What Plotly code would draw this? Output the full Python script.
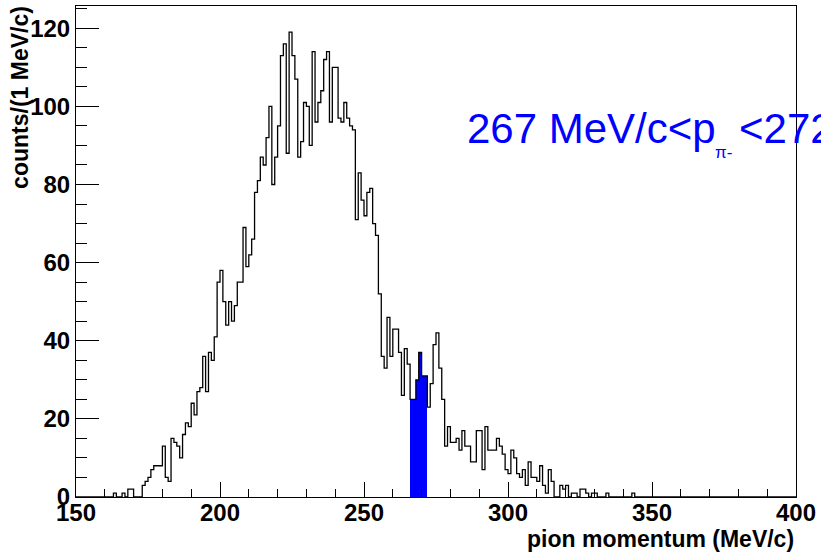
import plotly.graph_objects as go

# Pion momentum spectrum, 1 MeV/c bins from 150 to 400 MeV/c
bin_start = 150
bin_width = 1
counts = [
    0, 0, 0, 0, 0, 0, 0, 0, 0, 0,            # 150-159
    0, 0, 0, 1, 0, 0, 1, 0, 2, 2,            # 160-169
    0, 0, 0, 3, 4, 5, 7, 8, 8, 8,            # 170-179
    13, 5, 4, 15, 14, 13, 10, 16, 19, 18,    # 180-189
    24, 21, 27, 28, 36, 27, 37, 35, 41, 55,  # 190-199
    58, 50, 44, 50, 45, 49, 55, 55, 69, 59,  # 200-209
    62, 66, 78, 81, 87, 85, 92, 100, 80, 87,     # 210-219
    95, 113, 116, 88, 119, 113, 107, 87, 91, 101,  # 220-229
    100, 90, 114, 96, 101, 104, 112, 114, 96, 110,  # 230-239
    110, 97, 96, 101, 97, 95, 94, 71, 83, 76,   # 240-249
    72, 78, 79, 70, 67, 52, 36, 33, 46, 36,     # 250-259
    43, 43, 37, 26, 38, 34, 25, 25, 30, 37,     # 260-269
    31, 31, 23, 29, 39, 42, 33, 25, 13, 18,     # 270-279
    14, 14, 15, 12, 17, 13, 13, 9, 9, 17,       # 280-289
    17, 7, 18, 12, 12, 12, 15, 13, 11, 7,       # 290-299
    6, 12, 10, 6, 5, 7, 3, 9, 5, 5,             # 300-309
    4, 8, 3, 1, 7, 4, 0, 0, 3, 2,               # 310-319
    3, 0, 1, 1, 0, 2, 2, 1, 0, 1,               # 320-329
    1, 0, 0, 0, 1, 0, 0, 0, 0, 0,               # 330-339
    0, 0, 0, 1, 0, 0, 0, 0, 0, 0,               # 340-349
    0, 0, 0, 0, 0, 0, 0, 0, 0, 0,               # 350-359
    0, 0, 0, 0, 0, 0, 0, 0, 0, 0,               # 360-369
    0, 0, 0, 0, 0, 0, 0, 0, 0, 0,               # 370-379
    0, 0, 0, 0, 0, 0, 0, 0, 0, 0,               # 380-389
    0, 0, 0, 0, 0, 0, 0, 0, 0, 0,               # 390-399
]

# Selected momentum window (highlighted bins)
window_bins = [266, 267, 268, 269, 270, 271]

x_range = [150, 400]
y_range = [0, 125.7]

edges = [bin_start + i * bin_width for i in range(len(counts) + 1)]
sel_x = [b + 0.5 * bin_width for b in window_bins]
sel_y = [counts[b - bin_start] for b in window_bins]

BLUE = "#0000ff"
FONT = "Liberation Sans, Arial, Helvetica, sans-serif"

fig = go.Figure()

# filled selection
fig.add_trace(go.Bar(
    x=sel_x, y=sel_y, width=bin_width,
    marker=dict(color=BLUE, line=dict(width=0)),
    hoverinfo="skip",
))

# histogram outline
fig.add_trace(go.Scatter(
    x=edges, y=counts + [counts[-1]],
    mode="lines",
    line=dict(color="black", width=1.3, shape="hv"),
    hoverinfo="skip",
))

W, H = 821, 553
ML, MR, MT, MB = 76, 20, 5, 56
pw, ph = W - ML - MR, H - MT - MB


def px_to_paper_x(px):
    return (px - ML) / pw


def py_to_paper_y(py):
    return (H - MB - py) / ph


tickfont = dict(family=FONT, size=24, color="black", weight="bold")

fig.update_layout(
    width=W, height=H,
    margin=dict(l=ML, r=MR, t=MT, b=MB, pad=0),
    paper_bgcolor="white", plot_bgcolor="white",
    showlegend=False,
    bargap=0,
    xaxis=dict(
        range=x_range, tick0=150, dtick=50,
        showline=True, linecolor="black", linewidth=1, mirror=True,
        ticks="inside", ticklen=15, tickwidth=1, tickcolor="black",
        showgrid=False, zeroline=False,
        tickfont=tickfont, ticklabelstandoff=-6, ticklabeloverflow="allow",
        minor=dict(dtick=10, ticks="inside", ticklen=8, tickwidth=1,
                   tickcolor="black", showgrid=False),
    ),
    yaxis=dict(
        range=y_range, tick0=0, dtick=20,
        showline=True, linecolor="black", linewidth=1, mirror=True,
        ticks="inside", ticklen=23, tickwidth=1, tickcolor="black",
        showgrid=False, zeroline=False,
        tickfont=tickfont, ticklabeloverflow="allow",
        minor=dict(dtick=5, ticks="inside", ticklen=11, tickwidth=1,
                   tickcolor="black", showgrid=False),
    ),
)

title_font = dict(family=FONT, size=23, color="black", weight="bold")

fig.add_annotation(
    text="pion momentum (MeV/c)",
    xref="paper", yref="paper",
    x=px_to_paper_x(801), y=py_to_paper_y(539),
    xanchor="right", yanchor="middle",
    showarrow=False, font=title_font,
)
fig.add_annotation(
    text="counts/(1 MeV/c)",
    xref="paper", yref="paper",
    x=px_to_paper_x(19), y=py_to_paper_y(3),
    xanchor="center", yanchor="top", textangle=-90,
    showarrow=False, font=title_font,
)

# Selection label: 267 MeV/c < p_{pi-} < 272
big = dict(family=FONT, size=42, color=BLUE)
small = dict(family=FONT, size=17, color=BLUE)
fig.add_annotation(
    text="267 MeV/c&lt;p", xref="paper", yref="paper",
    x=px_to_paper_x(468), y=py_to_paper_y(128),
    xanchor="left", yanchor="middle", showarrow=False, font=big,
)
fig.add_annotation(
    text="π-", xref="paper", yref="paper",
    x=px_to_paper_x(717), y=py_to_paper_y(152),
    xanchor="left", yanchor="middle", showarrow=False, font=small,
)
fig.add_annotation(
    text="&lt;272", xref="paper", yref="paper",
    x=px_to_paper_x(742), y=py_to_paper_y(128),
    xanchor="left", yanchor="middle", showarrow=False, font=big,
)

fig.write_html("out.html")
